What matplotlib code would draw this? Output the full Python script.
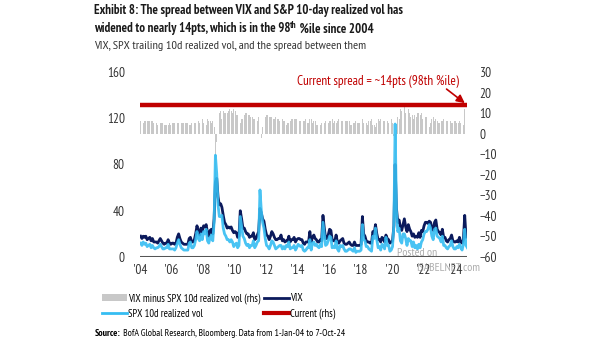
import numpy as np
import pandas as pd
import matplotlib
matplotlib.use("Agg")
import matplotlib.pyplot as plt
import matplotlib.dates as mdates
from matplotlib.patches import Patch
from matplotlib.lines import Line2D

FONT = ["PT Sans Narrow", "Archivo Narrow", "DejaVu Sans"]
plt.rcParams["font.family"] = FONT

# monthly readings, Jan-2004 .. Oct-2024
vix = [
    18, 16, 18, 17, 18, 15, 16, 17, 14, 16, 13, 13,   # 2004
    13, 12, 14, 16, 14, 12, 11, 12, 12, 15, 12, 11,   # 2005
    12, 12, 11, 12, 17, 20, 16, 13, 12, 11, 11, 11,   # 2006
    11, 16, 17, 13, 13, 15, 20, 27, 22, 19, 25, 22,   # 2007
    27, 26, 28, 21, 18, 23, 24, 20, 33, 65, 68, 52,   # 2008
    45, 46, 43, 36, 30, 28, 25, 26, 25, 26, 23, 21,   # 2009
    22, 21, 17, 18, 40, 33, 25, 25, 22, 20, 20, 17,   # 2010
    18, 18, 21, 15, 16, 19, 22, 42, 38, 33, 31, 24,   # 2011
    19, 18, 15, 18, 22, 20, 17, 15, 15, 16, 16, 19,   # 2012
    14, 15, 13, 14, 14, 18, 13, 15, 15, 17, 13, 15,   # 2013
    16, 16, 15, 15, 12, 11, 13, 13, 13, 22, 13, 17,   # 2014
    19, 16, 15, 13, 13, 15, 14, 36, 25, 16, 16, 19,   # 2015
    24, 23, 15, 14, 14, 19, 13, 12, 14, 15, 16, 12,   # 2016
    11, 11, 12, 13, 11, 10, 10, 13, 10, 10, 10, 10,   # 2017
    11, 35, 20, 18, 14, 13, 13, 12, 12, 22, 20, 28,   # 2018
    20, 15, 15, 13, 17, 16, 13, 19, 16, 15, 12, 13,   # 2019
    14, 27, 80, 42, 30, 32, 26, 23, 28, 33, 26, 22,   # 2020
    28, 24, 22, 18, 20, 17, 18, 17, 21, 17, 23, 22,   # 2021
    27, 30, 30, 29, 31, 30, 25, 23, 30, 32, 24, 22,   # 2022
    21, 19, 24, 17, 17, 14, 13, 15, 16, 19, 14, 13,   # 2023
    13, 14, 13, 17, 13, 12, 15, 36, 17, 22,           # 2024
]
spx_rv = [
    12, 10, 13, 11, 12, 9, 10, 11, 8, 10, 8, 7,
    8, 8, 9, 11, 9, 7, 7, 8, 8, 11, 7, 7,
    7, 7, 6, 8, 12, 15, 11, 8, 7, 6, 6, 6,
    6, 12, 13, 8, 8, 10, 15, 22, 16, 14, 20, 15,
    22, 20, 24, 14, 12, 17, 19, 14, 30, 88, 72, 45,
    35, 35, 36, 25, 20, 18, 15, 15, 13, 15, 13, 9,
    11, 12, 8, 10, 35, 26, 18, 16, 12, 10, 11, 8,
    10, 10, 14, 8, 10, 13, 14, 58, 40, 30, 25, 16,
    10, 9, 7, 10, 14, 13, 10, 7, 8, 9, 10, 10,
    7, 9, 7, 10, 9, 13, 7, 8, 8, 10, 6, 8,
    11, 10, 9, 10, 6, 5, 6, 8, 8, 15, 6, 12,
    13, 10, 11, 9, 8, 11, 9, 30, 20, 10, 11, 14,
    18, 17, 8, 9, 8, 14, 7, 5, 10, 9, 10, 7,
    5, 5, 6, 7, 7, 6, 5, 8, 4, 5, 5, 5,
    6, 28, 15, 14, 9, 9, 7, 6, 5, 18, 16, 25,
    15, 8, 9, 6, 11, 10, 7, 17, 10, 10, 5, 6,
    9, 28, 115, 40, 22, 25, 14, 12, 20, 20, 16, 10,
    16, 14, 14, 9, 13, 8, 10, 7, 11, 8, 13, 15,
    20, 22, 22, 24, 28, 25, 18, 15, 24, 25, 18, 17,
    16, 13, 18, 10, 10, 8, 7, 9, 10, 14, 9, 7,
    7, 9, 8, 11, 8, 6, 11, 24, 10, 8,
]
current_spread = 14
year_ticks = list(range(2004, 2025, 2))

NAVY = "#0b1a5c"
LIGHT = "#35bdf2"
GRAY = "#c8c8c8"
RED = "#c00000"

dates = pd.date_range("2004-01-01", periods=len(vix), freq="MS") + pd.Timedelta(days=14)
spread = np.array(vix) - np.array(spx_rv)
start, end = pd.Timestamp("2004-01-01"), pd.Timestamp("2024-10-07")

fig = plt.figure(figsize=(6.05, 3.41), dpi=100)
ax = fig.add_axes([0.2314, 0.2463, 0.5405, 0.5427])
ax2 = ax.twinx()
ax.set_zorder(2)
ax.patch.set_visible(False)

# spread bars on rhs, behind the lines
ax2.bar(dates, spread, width=19, color=GRAY, linewidth=0)
ax2.axhline(current_spread, color=RED, lw=3.2)
ax2.annotate("", xy=(end, current_spread), xytext=(pd.Timestamp("2023-05-01"), 22.5),
             arrowprops=dict(arrowstyle="-|>", color=RED, lw=1.2, mutation_scale=12))
ax2.text(pd.Timestamp("2013-12-15"), 25.2, "Current spread = ~14pts (98th %ile)",
         color=RED, fontsize=9.5, va="center", ha="left")
ax2.set_ylim(-60, 30)
ax2.set_yticks(range(-60, 31, 10))

ax.plot(dates, vix, color=NAVY, lw=2.0, solid_joinstyle="round")
ax.plot(dates, spx_rv, color=LIGHT, lw=2.0, alpha=0.9, solid_joinstyle="round")
ax.set_ylim(0, 160)
ax.set_yticks(range(0, 161, 40))
ax.set_xlim(start, end)
ax.set_xticks([pd.Timestamp(f"{y}-01-01") for y in year_ticks])
ax.xaxis.set_major_formatter(mdates.DateFormatter("'%y"))

for a in (ax, ax2):
    for s in a.spines.values():
        s.set_visible(False)
    a.tick_params(length=0, labelsize=9.5, colors="#333333")
ax.tick_params(axis="y", pad=11)
ax2.tick_params(axis="y", pad=9)
ax.tick_params(axis="x", pad=5)
ax.axhline(0, color="#555555", lw=2.2, zorder=5)

# titles
TS = 9.3
fig.text(0.155, 0.968, "Exhibit 8: The spread between VIX and S&P 10-day realized vol has",
         fontsize=TS, weight="bold", va="center", color="#1a1a1a")
t1 = fig.text(0.155, 0.915, "widened to nearly 14pts, which is in the 98",
              fontsize=TS, weight="bold", va="center", color="#1a1a1a")
t2 = ax.annotate("th", xy=(1, 0.8), xycoords=t1, va="center", ha="left",
                 fontsize=6.3, weight="bold", color="#1a1a1a")
ax.annotate(" %ile since 2004", xy=(1, 0.5), xycoords=(t2, t1), va="center", ha="left",
            fontsize=TS, weight="bold", color="#1a1a1a")
fig.text(0.155, 0.865, "VIX, SPX trailing 10d realized vol, and the spread between them",
         fontsize=8.85, va="center", color="#333333")

handles = [
    Patch(facecolor=GRAY, edgecolor="none"),
    Line2D([], [], color=LIGHT, lw=2),
    Line2D([], [], color=NAVY, lw=2),
    Line2D([], [], color=RED, lw=3),
]
labels = ["VIX minus SPX 10d realized vol (rhs)", "SPX 10d realized vol", "VIX", "Current (rhs)"]
fig.legend(handles, labels, ncol=2, loc="upper left", bbox_to_anchor=(0.161, 0.153),
           frameon=False, fontsize=7.6, handlelength=2.4, handletextpad=0.1,
           columnspacing=0.3, labelspacing=0.45, borderaxespad=0)

src = fig.text(0.157, 0.01, "Source:", fontsize=7, weight="bold", va="bottom")
ax.annotate(" BofA Global Research, Bloomberg. Data from 1-Jan-04 to 7-Oct-24",
            xy=(1, 0), xycoords=src, va="bottom", ha="left", fontsize=7)

# watermark
fig.text(0.656, 0.258, "Posted on", fontsize=8.5, color="#8a8a8a", alpha=0.7, va="center")
fig.text(0.688, 0.214, "ISABELNET.com", fontsize=8.5, color="#8a8a8a", alpha=0.7, va="center")

fig.savefig("out.png", dpi=100)
